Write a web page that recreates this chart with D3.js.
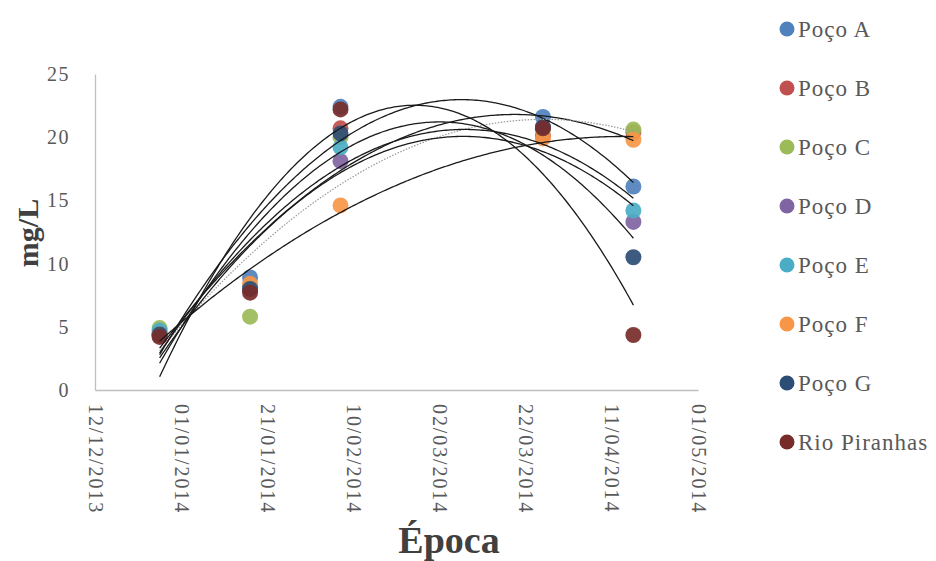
<!DOCTYPE html>
<html><head><meta charset="utf-8">
<script src="https://cdn.jsdelivr.net/npm/d3@7/dist/d3.min.js"></script>
<style>body{margin:0;background:#fff}svg{display:block}</style>
</head><body><svg id="c" width="936" height="561"></svg>
<script>
const dates = ["2013-12-27","2014-01-17","2014-02-07","2014-03-26","2014-04-16"];
const seriesNames = ["Poço A","Poço B","Poço C","Poço D","Poço E","Poço F","Poço G","Rio Piranhas"];
const seriesColors = ["#4F81BD","#C0504D","#9BBB59","#8064A2","#4BACC6","#F79646","#2C4D75","#772C2A"];
const pocoA = [4.5, 8.9, 22.4, 21.6, 16.1];
const pocoB = [4.4, 8.0, 20.7, 20.1, 20.4];
const pocoC = [4.9, 5.8, 20.0, 20.6, 20.6];
const pocoD = [4.3, 8.1, 18.1, 20.8, 13.3];
const pocoE = [4.7, 8.2, 19.2, 20.8, 14.2];
const pocoF = [4.4, 8.4, 14.6, 19.9, 19.8];
const pocoG = [4.4, 8.0, 20.3, 20.8, 10.5];
const rioPiranhas = [4.2, 7.7, 22.2, 20.7, 4.35];
const seriesValues = [pocoA,pocoB,pocoC,pocoD,pocoE,pocoF,pocoG,rioPiranhas];
const xTicks = ["2013-12-12","2014-01-01","2014-01-21","2014-02-10","2014-03-02","2014-03-22","2014-04-11","2014-05-01"];
const yTicks = [0,5,10,15,20,25];
const dottedSeries = "Poço C";

const parse = s => { const [y,m,d] = s.split("-").map(Number); return new Date(Date.UTC(y,m-1,d)); };
const fmt = d3.utcFormat("%d/%m/%Y");
const svg = d3.select("#c");
const x = d3.scaleUtc().domain([parse(xTicks[0]), parse(xTicks[xTicks.length-1])]).range([95, 698]);
const y = d3.scaleLinear().domain([0,25]).range([390, 74]);

// axes
const gx = svg.append("g").attr("transform","translate(0,390)")
  .call(d3.axisBottom(x).tickValues(xTicks.map(parse)).tickFormat(fmt).tickSize(0).tickPadding(0));
gx.select(".domain").attr("stroke","#bfbfbf").attr("stroke-width",1.3);
gx.selectAll("text").attr("transform","rotate(90)").attr("x",14).attr("y",0).attr("dy","0.35em")
  .style("text-anchor","start").attr("fill","#595959")
  .style("font-family","'Liberation Serif','Times New Roman',serif").style("font-size","20px").style("letter-spacing","1.9px");

const gy = svg.append("g").attr("transform","translate(95,0)")
  .call(d3.axisLeft(y).tickValues(yTicks).tickSize(0).tickPadding(25));
gy.select(".domain").attr("stroke","#bfbfbf").attr("stroke-width",1.3);
gy.selectAll("text").attr("fill","#595959")
  .style("font-family","'Liberation Serif','Times New Roman',serif").style("font-size","20px").style("letter-spacing","1.5px");

// titles
svg.append("text").attr("transform","translate(27,233) rotate(-90)").attr("text-anchor","middle")
  .attr("dy","0.35em").attr("fill","#404040").style("font-family","'Liberation Serif',serif")
  .style("font-weight","bold").style("font-size","30px").text("mg/L");
svg.append("text").attr("x",449).attr("y",553).attr("text-anchor","middle").attr("fill","#404040")
  .style("font-family","'Liberation Serif',serif").style("font-weight","bold").style("font-size","38px").text("Época");

// quadratic least-squares fit
function fitQuad(ts, vs){
  let S=[0,0,0,0,0], T=[0,0,0];
  ts.forEach((t,i)=>{ for(let k=0;k<5;k++) S[k]+=Math.pow(t,k); for(let k=0;k<3;k++) T[k]+=vs[i]*Math.pow(t,k); });
  const A=[[S[0],S[1],S[2],T[0]],[S[1],S[2],S[3],T[1]],[S[2],S[3],S[4],T[2]]];
  for(let i=0;i<3;i++){ for(let j=i+1;j<3;j++){ const f=A[j][i]/A[i][i]; for(let k=i;k<4;k++) A[j][k]-=f*A[i][k]; } }
  const c=[0,0,0];
  for(let i=2;i>=0;i--){ let s=A[i][3]; for(let k=i+1;k<3;k++) s-=A[i][k]*c[k]; c[i]=s/A[i][i]; }
  return t=>c[0]+c[1]*t+c[2]*t*t;
}
const dayMs = 86400000;
const d0 = parse(dates[0]).getTime();
const ts = dates.map(d => (parse(d).getTime()-d0)/dayMs);
const line = d3.line().x(d=>x(new Date(d0+d[0]*dayMs))).y(d=>y(d[1])).curve(d3.curveLinear);

// points
seriesNames.forEach((name,si)=>{
  svg.append("g").selectAll("circle").data(seriesValues[si]).join("circle")
    .attr("cx",(d,i)=>x(parse(dates[i]))).attr("cy",d=>y(d)).attr("r",8)
    .attr("fill",seriesColors[si]).attr("fill-opacity",0.92);
});
// trendlines
seriesNames.forEach((name,si)=>{
  const f = fitQuad(ts, seriesValues[si]);
  const pts = d3.range(0, ts[ts.length-1]+0.001, 0.5).map(t=>[t,f(t)]);
  const dotted = name===dottedSeries;
  svg.append("path").attr("d",line(pts)).attr("fill","none")
    .attr("stroke", dotted ? "#9a9a9a" : "#1a1a1a").attr("stroke-width", dotted?1.2:1.3)
    .attr("stroke-dasharray", dotted ? "1.5,1.5" : null);
});

// legend
const lg = svg.append("g");
seriesNames.forEach((name,i)=>{
  const yy = 29 + i*59;
  lg.append("circle").attr("cx",787).attr("cy",yy).attr("r",7.5).attr("fill",seriesColors[i]);
  lg.append("text").attr("x",798).attr("y",yy).attr("dy","0.35em").attr("fill","#595959")
    .style("font-family","'Liberation Serif',serif").style("font-size","23px").style("letter-spacing","1px").text(name);
});
</script></body></html>
